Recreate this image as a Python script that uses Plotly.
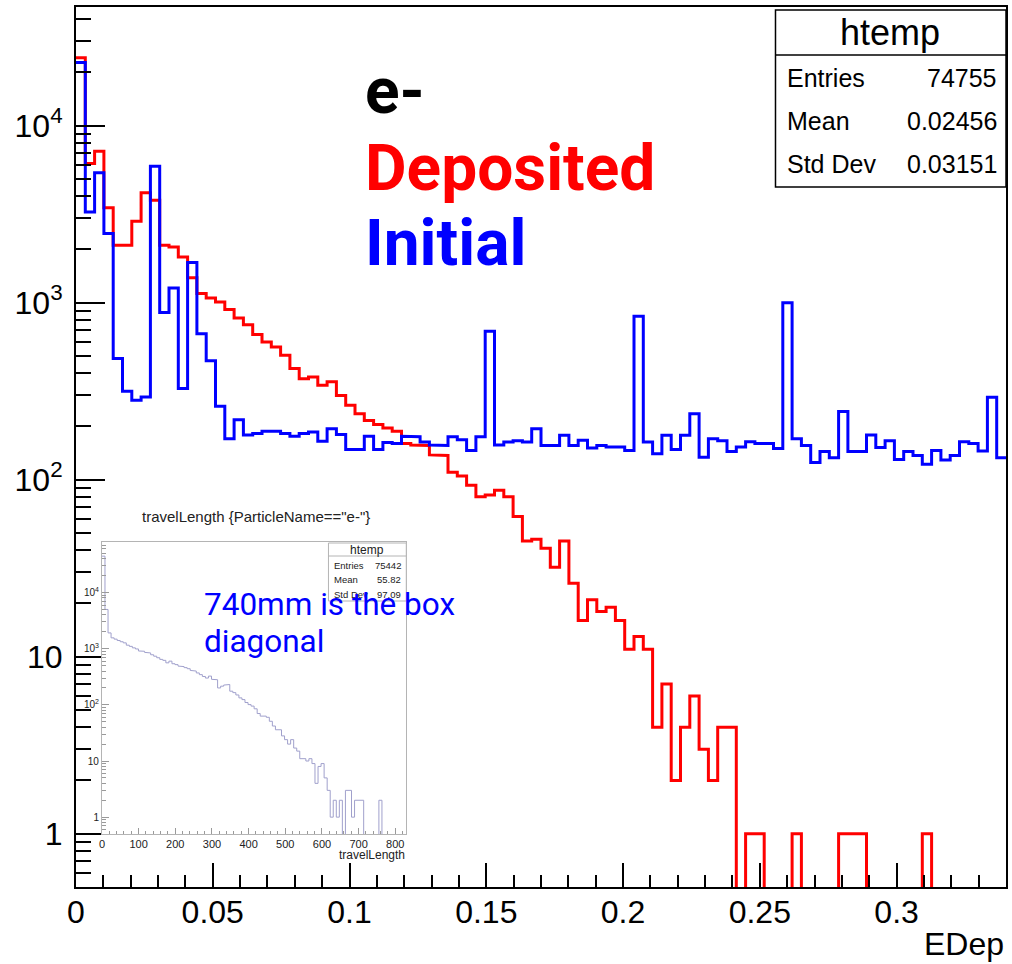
import numpy as np
import plotly.graph_objects as go

# ---------------- data ----------------
# EDep histogram: 100 bins on [0, 0.34]
edep_lo, edep_hi, n_bins = 0.0, 0.34, 100

deposited = [
    24200, 6100, 7160, 3430, 2110, 2110, 2880, 4180, 3790, 2110,
    2060, 1810, 1380, 1125, 1063, 1008, 916, 820, 750, 660,
    600, 562, 504, 424, 372, 380, 341, 357, 299, 263,
    236, 216, 205, 196, 188, 160, 157, 156, 138, 137,
    110, 105, 93, 80, 82, 87, 80, 62, 45, 46,
    41, 32, 45, 26, 16, 21, 18, 19, 16, 11,
    13, 11, 4, 7, 2, 4, 6, 3, 2, 4,
    4, 0, 1, 1, 0, 0, 0, 1, 0, 0,
    0, 0, 1, 1, 1, 0, 0, 0, 0, 0,
    0, 1, 0, 0, 0, 0, 0, 0, 0, 0,
]

initial = [
    22700, 3250, 5420, 2455, 483, 316, 281, 293, 5900, 879,
    1210, 327, 1683, 668, 470, 260, 170, 218, 179, 182,
    188, 188, 182, 176, 182, 186, 165, 194, 180, 148,
    148, 176, 148, 162, 160, 176, 175, 163, 157, 156,
    175, 168, 146, 175, 689, 157, 163, 166, 163, 194,
    156, 156, 178, 156, 167, 151, 156, 153, 153, 146,
    837, 163, 140, 178, 148, 178, 236, 134, 170, 166,
    144, 153, 164, 160, 160, 150, 1000, 170, 156, 125,
    144, 133, 243, 144, 144, 179, 152, 166, 130, 144,
    137, 122, 146, 129, 137, 164, 160, 145, 292, 133,
]

# travelLength histogram (electrons): 100 bins on [0, 830]
tl_lo, tl_hi = 0.0, 830.0
travel_length = [
    44500, 5000, 1910, 1560, 1480, 1400, 1330, 1270, 1155, 1100,
    1035, 990, 910, 900, 860, 840, 780, 735, 690, 645,
    620, 560, 600, 540, 520, 490, 480, 460, 440, 410,
    400, 370, 345, 320, 300, 325, 285, 280, 200, 215,
    225, 230, 175, 165, 150, 133, 124, 110, 101, 95,
    85, 70, 63, 63, 60, 51, 42, 36, 36, 28,
    24, 20, 24, 17, 15, 11, 11, 10, 11, 9,
    4, 8, 9, 5, 3, 1, 2, 1, 2, 0,
    3, 3, 1, 2, 2, 2, 0, 0, 0, 0,
    0, 2, 0, 0, 0, 0, 0, 0, 0, 0,
]

main_stats = [("Entries", "74755"), ("Mean", "0.02456"), ("Std Dev", "0.03151")]
inset_stats = [("Entries", "75442"), ("Mean", "55.82"), ("Std Dev", "97.09")]

x_ticks = [0, 0.05, 0.1, 0.15, 0.2, 0.25, 0.3]
x_ticktext = ["0", "0.05", "0.1", "0.15", "0.2", "0.25", "0.3"]
y_ticks = [1, 10, 100, 1000, 10000]
y_ticktext = ["1", "10", "10<sup>2</sup>", "10<sup>3</sup>", "10<sup>4</sup>"]
inset_x_ticks = [0, 100, 200, 300, 400, 500, 600, 700, 800]


# ---------------- helpers ----------------
def step_outline(counts, lo, hi, floor):
    """Histogram outline as a staircase; empty bins drop below the axis floor."""
    counts = np.asarray(counts, dtype=float)
    edges = np.linspace(lo, hi, len(counts) + 1)
    shown = np.where(counts > 0, counts, floor)
    xs = np.repeat(edges, 2)[1:-1]
    ys = np.repeat(shown, 2)
    return xs, ys


def log_minors(lo_exp, hi_exp):
    vals = []
    for e in range(lo_exp, hi_exp + 1):
        for m in range(2, 10):
            vals.append(m * 10.0 ** e)
    return vals


# canvas geometry (pixels)
W, H = 1012, 964
PL, PR, PT, PB = 76, 1008, 7, 887


def px(x):
    return (x - PL) / (PR - PL)


def py(y):
    return (PB - y) / (PB - PT)


FONT = "Liberation Sans"

fig = go.Figure()

# ---------------- main histograms ----------------
xr, yr = step_outline(deposited, edep_lo, edep_hi, 0.05)
fig.add_trace(go.Scatter(x=xr, y=yr, mode="lines", line=dict(color="#ff0000", width=3),
                         hoverinfo="skip", showlegend=False))
xb, yb = step_outline(initial, edep_lo, edep_hi, 0.05)
fig.add_trace(go.Scatter(x=xb, y=yb, mode="lines", line=dict(color="#0000ff", width=3),
                         hoverinfo="skip", showlegend=False))

# ---------------- inset histogram ----------------
xi, yi = step_outline(travel_length, tl_lo, tl_hi, 0.05)
fig.add_trace(go.Scatter(x=xi, y=yi, mode="lines", xaxis="x2", yaxis="y2",
                         line=dict(color="#a0a0cc", width=1),
                         hoverinfo="skip", showlegend=False))

fig.update_layout(
    width=W, height=H,
    margin=dict(l=PL, r=W - PR, t=PT, b=H - PB),
    paper_bgcolor="white", plot_bgcolor="white",
    xaxis=dict(
        range=[edep_lo, edep_hi], showgrid=False, zeroline=False,
        showline=True, linecolor="black", linewidth=2, mirror=True,
        ticks="inside", ticklen=24, tickwidth=1.5, tickcolor="black",
        tickvals=x_ticks, ticktext=x_ticktext,
        tickfont=dict(family=FONT, size=32, color="black"),
        ticklabelstandoff=-4,
        minor=dict(ticks="inside", ticklen=12, tickwidth=1.5, tickcolor="black",
                   dtick=0.01, tick0=0, showgrid=False),
    ),
    yaxis=dict(
        type="log", range=[np.log10(0.5), 4.67], showgrid=False, zeroline=False,
        showline=True, linecolor="black", linewidth=2, mirror=True,
        ticks="inside", ticklen=29, tickwidth=1.5, tickcolor="black",
        tickvals=y_ticks, ticktext=y_ticktext,
        tickfont=dict(family=FONT, size=32, color="black"),
        ticklabelstandoff=5,
        minor=dict(ticks="inside", ticklen=15, tickwidth=1.5, tickcolor="black",
                   tickvals=log_minors(-1, 4), showgrid=False),
    ),
    xaxis2=dict(
        domain=[px(102), px(407)], anchor="y2",
        range=[tl_lo, tl_hi], showgrid=False, zeroline=False,
        showline=True, linecolor="#b4b4b4", linewidth=1, mirror=True,
        ticks="inside", ticklen=6, tickcolor="#9a9a9a",
        tickvals=inset_x_ticks,
        tickfont=dict(family=FONT, size=11, color="#222"),
        ticklabelstandoff=0,
        minor=dict(ticks="inside", ticklen=3, tickcolor="#9a9a9a", dtick=20, tick0=0,
                   showgrid=False),
    ),
    yaxis2=dict(
        domain=[py(834), py(542)], anchor="x2",
        type="log", range=[-0.30, 4.90], showgrid=False, zeroline=False,
        showline=True, linecolor="#b4b4b4", linewidth=1, mirror=True,
        ticks="inside", ticklen=7, tickcolor="#9a9a9a",
        tickvals=y_ticks, ticktext=y_ticktext,
        tickfont=dict(family=FONT, size=10, color="#222"),
        ticklabelstandoff=0,
        minor=dict(ticks="inside", ticklen=4, tickcolor="#9a9a9a",
                   tickvals=log_minors(-1, 4), showgrid=False),
    ),
)

shapes = []
annotations = []

# ---------------- stats box (main) ----------------
shapes.append(dict(type="rect", xref="paper", yref="paper",
                   x0=px(777), x1=px(1008), y0=py(187), y1=py(10),
                   line=dict(color="black", width=1.5), fillcolor="white", layer="above"))
shapes.append(dict(type="line", xref="paper", yref="paper",
                   x0=px(777), x1=px(1008), y0=py(55), y1=py(55),
                   line=dict(color="black", width=1.5), layer="above"))
annotations.append(dict(text="htemp", xref="paper", yref="paper", x=px(892), y=py(32),
                        xanchor="center", yanchor="middle", showarrow=False,
                        font=dict(family=FONT, size=36, color="black")))
for i, (k, v) in enumerate(main_stats):
    yc = 78 + i * 43
    annotations.append(dict(text=k, xref="paper", yref="paper", x=px(787), y=py(yc),
                            xanchor="left", yanchor="middle", showarrow=False,
                            font=dict(family=FONT, size=25, color="black")))
    annotations.append(dict(text=v, xref="paper", yref="paper", x=px(1001), y=py(yc),
                            xanchor="right", yanchor="middle", showarrow=False,
                            font=dict(family=FONT, size=25, color="black")))

# ---------------- legend-like labels ----------------
for txt, col, yc in [("e-", "black", 92), ("Deposited", "#ff0000", 168), ("Initial", "#0000ff", 244)]:
    annotations.append(dict(text="<b>%s</b>" % txt, xref="paper", yref="paper",
                            x=px(364), y=py(yc), xanchor="left", yanchor="middle",
                            showarrow=False,
                            font=dict(family="Roboto", size=64, color=col)))

# axis title
annotations.append(dict(text="EDep", xref="paper", yref="paper", x=px(1008), y=py(944),
                        xanchor="right", yanchor="middle", showarrow=False,
                        font=dict(family=FONT, size=32, color="black")))

# ---------------- inset decorations ----------------
annotations.append(dict(text='travelLength {ParticleName=="e-"}', xref="paper", yref="paper",
                        x=px(256), y=py(516), xanchor="center", yanchor="middle",
                        showarrow=False, font=dict(family=FONT, size=15, color="#222")))
annotations.append(dict(text="travelLength", xref="paper", yref="paper",
                        x=px(408), y=py(855), xanchor="right", yanchor="middle",
                        showarrow=False, font=dict(family=FONT, size=12, color="#222")))
shapes.append(dict(type="rect", xref="paper", yref="paper",
                   x0=px(329), x1=px(407), y0=py(601), y1=py(543),
                   line=dict(color="#b4b4b4", width=1), fillcolor="white", layer="above"))
shapes.append(dict(type="line", xref="paper", yref="paper",
                   x0=px(329), x1=px(407), y0=py(556), y1=py(556),
                   line=dict(color="#b4b4b4", width=1), layer="above"))
annotations.append(dict(text="htemp", xref="paper", yref="paper", x=px(368), y=py(549.5),
                        xanchor="center", yanchor="middle", showarrow=False,
                        font=dict(family=FONT, size=12, color="#222")))
for i, (k, v) in enumerate(inset_stats):
    yc = 565 + i * 14.5
    annotations.append(dict(text=k, xref="paper", yref="paper", x=px(333), y=py(yc),
                            xanchor="left", yanchor="middle", showarrow=False,
                            font=dict(family=FONT, size=9.5, color="#222")))
    annotations.append(dict(text=v, xref="paper", yref="paper", x=px(404), y=py(yc),
                            xanchor="right", yanchor="middle", showarrow=False,
                            font=dict(family=FONT, size=9.5, color="#222")))

annotations.append(dict(text="740mm is the box", xref="paper", yref="paper",
                        x=px(202), y=py(604), xanchor="left", yanchor="middle",
                        showarrow=False, font=dict(family="Roboto", size=31.5, color="#0000ff")))
annotations.append(dict(text="diagonal", xref="paper", yref="paper",
                        x=px(202), y=py(641), xanchor="left", yanchor="middle",
                        showarrow=False, font=dict(family="Roboto", size=31.5, color="#0000ff")))

fig.update_layout(shapes=shapes, annotations=annotations)

fig.write_html("out.html")
